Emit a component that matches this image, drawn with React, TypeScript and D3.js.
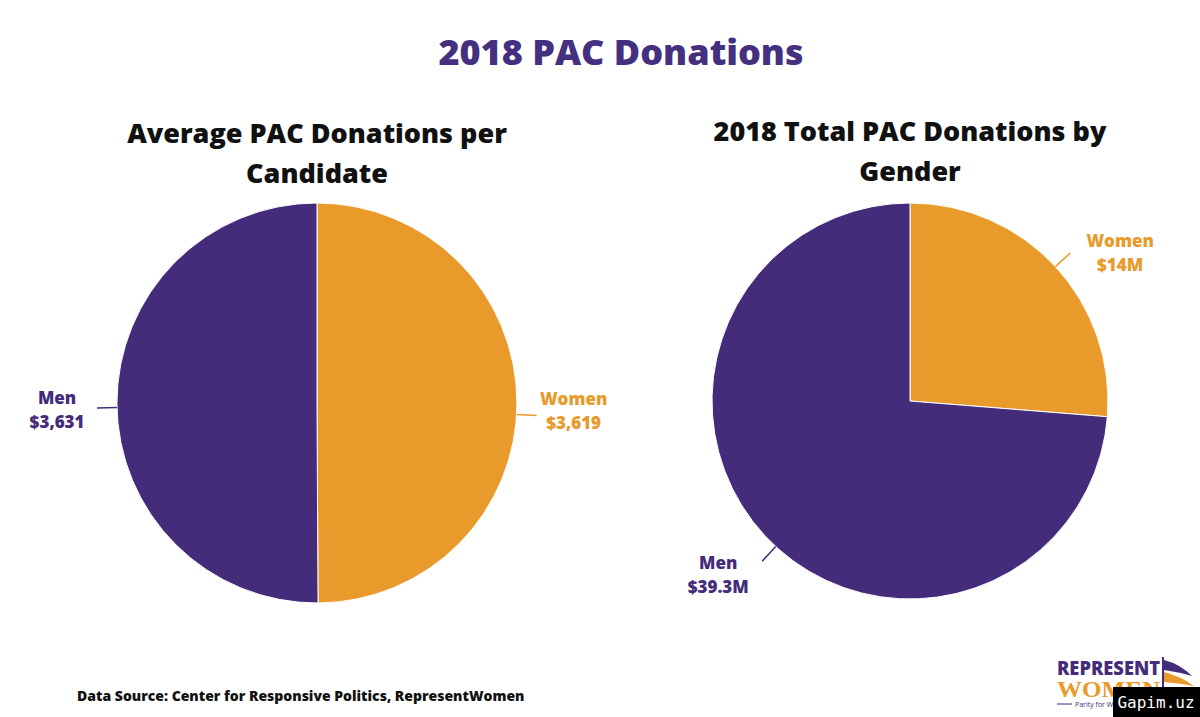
import React from 'react';
import * as d3 from 'd3';

const genders = ['Women', 'Men'];
const avgDonations = [3619, 3631];
const avgLabels = ['$3,619', '$3,631'];
const totalDonations = [14, 39.3];
const totalLabels = ['$14M', '$39.3M'];

const PURPLE = '#452c7b';
const ORANGE = '#e89a2b';
const colors = d3.scaleOrdinal<string, string>().domain(genders).range([ORANGE, PURPLE]);
const FONT = "'Open Sans', 'Noto Sans', sans-serif";

type PieProps = {
  cx: number;
  cy: number;
  r: number;
  values: number[];
  labels: string[];
  titleLines: string[];
  // label offsets (dx, dy) from the end of the leader line
  labelOffsets: [number, number][];
  angleShift: number[];
};

const Pie = ({ cx, cy, r, values, labels, titleLines, labelOffsets, angleShift }: PieProps) => {
  const data = genders.map((g, i) => ({ g, v: values[i], label: labels[i] }));
  const arcs = d3.pie<{ g: string; v: number; label: string }>().sort(null).value(d => d.v)(data);
  const arc = d3.arc<d3.PieArcDatum<any>>().innerRadius(0).outerRadius(r);

  return (
    <g>
      {titleLines.map((t, i) => (
        <text key={t} x={cx} y={cy - 260 + i * 40} textAnchor="middle" fontFamily={FONT}
          fontWeight={800} fontSize={27} fill="#111">{t}</text>
      ))}
      <g transform={`translate(${cx},${cy})`}>
        {arcs.map(a => (
          <path key={a.data.g} d={arc(a) || ''} fill={colors(a.data.g)} stroke="#fff" strokeWidth={1} />
        ))}
        {arcs.map((a, i) => {
          const mid = (a.startAngle + a.endAngle) / 2 + angleShift[i];
          const x1 = Math.sin(mid) * r, y1 = -Math.cos(mid) * r;
          const x2 = Math.sin(mid) * (r + 20), y2 = -Math.cos(mid) * (r + 20);
          const [dx, dy] = labelOffsets[i];
          return (
            <g key={a.data.g + 'l'}>
              <line x1={x1} y1={y1} x2={x2} y2={y2} stroke={colors(a.data.g)} strokeWidth={1.5} />
              <text x={x2 + dx} y={y2 + dy} textAnchor="middle" fontFamily={FONT} fontWeight={800}
                fontSize={17} fill={colors(a.data.g)}>
                <tspan x={x2 + dx} dy={0}>{a.data.g}</tspan>
                <tspan x={x2 + dx} dy={24}>{a.data.label}</tspan>
              </text>
            </g>
          );
        })}
      </g>
    </g>
  );
};

export default function App() {
  return (
    <svg width={1200} height={717} style={{ display: 'block', position: 'absolute', left: 0, top: 0 }}>
      <rect width={1200} height={717} fill="#fff" />
      <text x={621} y={65} textAnchor="middle" fontFamily={FONT} fontWeight={800} fontSize={36} fill="#44307f">
        2018 PAC Donations
      </text>

      <Pie cx={317} cy={403} r={200} values={avgDonations} labels={avgLabels}
        titleLines={['Average PAC Donations per', 'Candidate']}
        labelOffsets={[[37, -11], [-40, -4]]} angleShift={[0.06, -0.02]} />
      <Pie cx={910} cy={401} r={198} values={totalDonations} labels={totalLabels}
        titleLines={['2018 Total PAC Donations by', 'Gender']}
        labelOffsets={[[50, -6], [-44, 8]]} angleShift={[0, -0.08]} />

      <text x={77} y={701} fontFamily={FONT} fontWeight={800} fontSize={14} fill="#111">
        Data Source: Center for Responsive Politics, RepresentWomen
      </text>

      {/* logo */}
      <g>
        <text x={1057} y={675} fontFamily={FONT} fontWeight={800} fontSize={20} fill={PURPLE}
          textLength={103} lengthAdjust="spacingAndGlyphs">REPRESENT</text>
        <text x={1057} y={697} fontFamily="'Liberation Serif', serif" fontWeight={700} fontSize={24} fill={ORANGE}
          textLength={103} lengthAdjust="spacingAndGlyphs">WOMEN</text>
        <line x1={1163} y1={657} x2={1163} y2={700} stroke={PURPLE} strokeWidth={2} />
        <path d="M1164,660 Q1180,664 1192,676 Q1178,672 1164,670 Z" fill={PURPLE} />
        <path d="M1164,672 Q1180,676 1194,686 Q1178,683 1164,682 Z" fill={ORANGE} />
        <line x1={1057} y1={704} x2={1072} y2={704} stroke={PURPLE} strokeWidth={1} />
        <text x={1075} y={707} fontFamily={FONT} fontSize={7} fill={PURPLE}>Parity for Women</text>
      </g>
      <rect x={1113} y={687} width={87} height={30} fill="#000" />
      <text x={1156} y={708} textAnchor="middle" fontFamily="'DejaVu Sans Mono', monospace" fontSize={16} fill="#fff">
        Gapim.uz
      </text>
    </svg>
  );
}
